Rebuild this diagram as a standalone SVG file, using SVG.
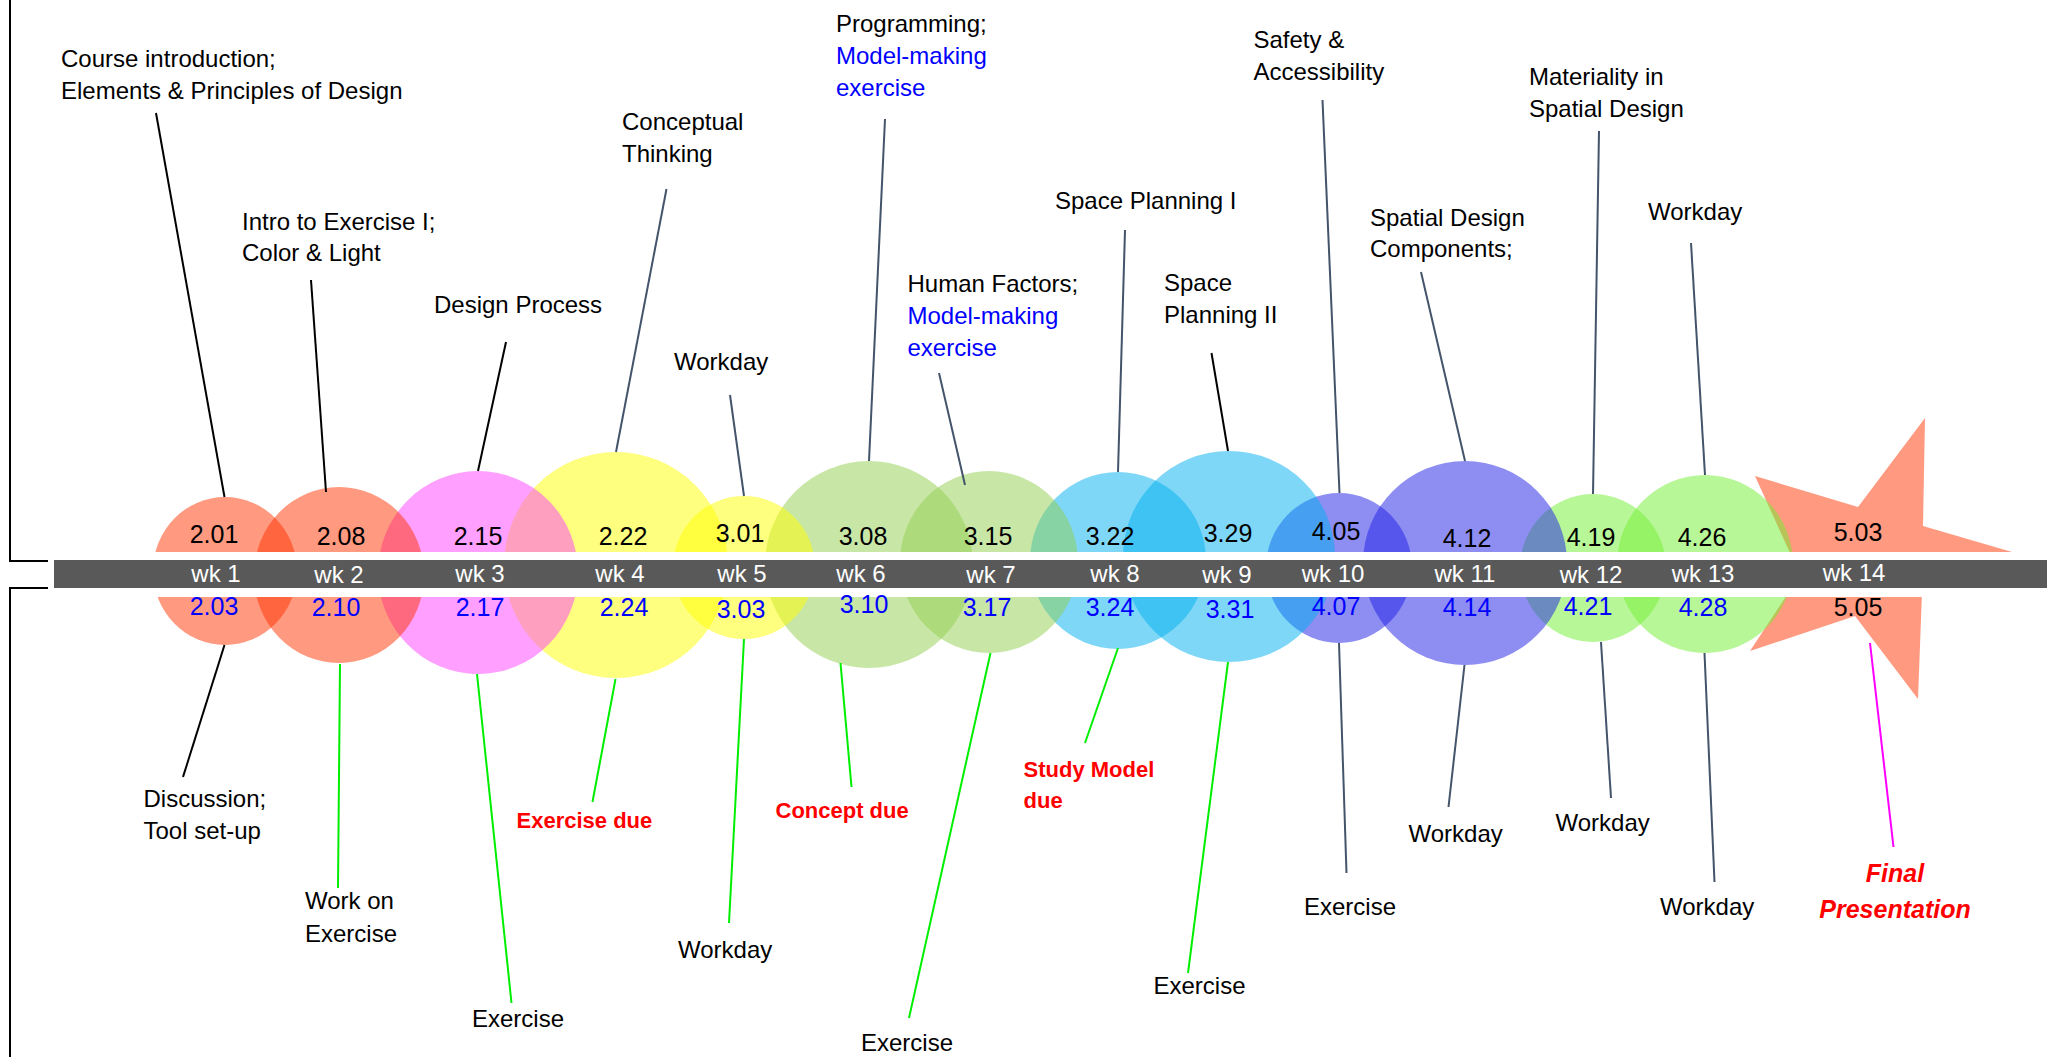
<svg xmlns="http://www.w3.org/2000/svg" width="2047" height="1057" viewBox="0 0 2047 1057">
<style>
text{font-family:"Liberation Sans",Arial,sans-serif}
.lbl{font-size:24px;fill:#000}
.blue{fill:#0000FF}
.due{font-size:22px;font-weight:bold;fill:#FF0000}
.fin{font-size:25px;font-weight:bold;font-style:italic;fill:#FF0000;text-anchor:middle}
.num{font-size:25px;text-anchor:middle}
.t{fill:#000}
.b{fill:#0000FF}
.wk{font-size:24px;fill:#FFFFFF;text-anchor:middle}
.or{fill:#FF3300;fill-opacity:.5}
.pk{fill:#FF40FF;fill-opacity:.5}
.ye{fill:#FFFF00;fill-opacity:.5}
.gr{fill:#92D050;fill-opacity:.5}
.bl{fill:#00B0F0;fill-opacity:.5}
.pu{fill:#1E1EE6;fill-opacity:.5}
.lg{fill:#72F032;fill-opacity:.5}
line{stroke-width:2;fill:none}
.k{stroke:#000}
.s{stroke:#44546A}
.g{stroke:#00EE00}
.m{stroke:#FF00FF}
</style>
<g id="bubbles">
<polygon id="star14" class="or" points="1925,418 1923,526 2012,552 1922,592 1918,699 1855,616 1750,651 1800,575 1755,476 1858,507"/>
<ellipse id="c13" class="lg" cx="1705" cy="564" rx="88" ry="89"/>
<ellipse id="c12" class="lg" cx="1593" cy="568" rx="73" ry="74"/>
<ellipse id="c11" class="pu" cx="1465" cy="563" rx="102" ry="102"/>
<ellipse id="c10" class="pu" cx="1339" cy="568" rx="73" ry="75"/>
<ellipse id="c9" class="bl" cx="1229" cy="556.5" rx="106" ry="105.5"/>
<ellipse id="c8" class="bl" cx="1118" cy="560.5" rx="88" ry="88.5"/>
<ellipse id="c7" class="gr" cx="989" cy="562" rx="89" ry="91"/>
<ellipse id="c6" class="gr" cx="869" cy="564.5" rx="104" ry="103.5"/>
<ellipse id="c5" class="ye" cx="744" cy="567.5" rx="71" ry="71.5"/>
<ellipse id="c4" class="ye" cx="616" cy="565" rx="112" ry="113"/>
<ellipse id="c3" class="pk" cx="478" cy="572.5" rx="100" ry="101.5"/>
<ellipse id="c2" class="or" cx="339" cy="575" rx="85" ry="88"/>
<ellipse id="c1" class="or" cx="225" cy="571" rx="72" ry="74"/>
</g>
<g id="timeline">
<rect x="50" y="552" width="1997" height="45" fill="#FFFFFF"/>
<rect x="54" y="560" width="1993" height="28" fill="#595959"/>
<polyline points="10,0 10,561 48,561" fill="none" stroke="#000" stroke-width="2"/>
<polyline points="10,1057 10,588 48,588" fill="none" stroke="#000" stroke-width="2"/>
</g>
<g id="weeks">
<text class="wk" x="216" y="582">wk 1</text>
<text class="wk" x="339" y="583">wk 2</text>
<text class="wk" x="480" y="582">wk 3</text>
<text class="wk" x="620" y="582">wk 4</text>
<text class="wk" x="742" y="582">wk 5</text>
<text class="wk" x="861" y="582">wk 6</text>
<text class="wk" x="991" y="583">wk 7</text>
<text class="wk" x="1115" y="582">wk 8</text>
<text class="wk" x="1227" y="583">wk 9</text>
<text class="wk" x="1333" y="582">wk 10</text>
<text class="wk" x="1465" y="582">wk 11</text>
<text class="wk" x="1591" y="583">wk 12</text>
<text class="wk" x="1703" y="582">wk 13</text>
<text class="wk" x="1854" y="581">wk 14</text>
</g>
<g id="dates">
<text class="num t" x="214" y="543">2.01</text>
<text class="num t" x="341" y="545">2.08</text>
<text class="num t" x="478" y="545">2.15</text>
<text class="num t" x="623" y="545">2.22</text>
<text class="num t" x="740" y="542">3.01</text>
<text class="num t" x="863" y="545">3.08</text>
<text class="num t" x="988" y="545">3.15</text>
<text class="num t" x="1110" y="545">3.22</text>
<text class="num t" x="1228" y="542">3.29</text>
<text class="num t" x="1336" y="540">4.05</text>
<text class="num t" x="1467" y="547">4.12</text>
<text class="num t" x="1591" y="546">4.19</text>
<text class="num t" x="1702" y="546">4.26</text>
<text class="num t" x="1858" y="541">5.03</text>
<text class="num b" x="214" y="615">2.03</text>
<text class="num b" x="336" y="616">2.10</text>
<text class="num b" x="480" y="616">2.17</text>
<text class="num b" x="624" y="616">2.24</text>
<text class="num b" x="741" y="618">3.03</text>
<text class="num b" x="864" y="613">3.10</text>
<text class="num b" x="987" y="616">3.17</text>
<text class="num b" x="1110" y="616">3.24</text>
<text class="num b" x="1230" y="618">3.31</text>
<text class="num b" x="1336" y="615">4.07</text>
<text class="num b" x="1467" y="616">4.14</text>
<text class="num b" x="1588" y="615">4.21</text>
<text class="num b" x="1703" y="616">4.28</text>
<text class="num t" x="1858" y="616">5.05</text>
</g>
<g id="connectors">
<line class="k" x1="156" y1="113" x2="224.5" y2="497"/>
<line class="k" x1="311" y1="280" x2="326" y2="492"/>
<line class="k" x1="506" y1="342" x2="478" y2="471"/>
<line class="s" x1="666.5" y1="189" x2="616" y2="452"/>
<line class="s" x1="730" y1="395" x2="744" y2="496"/>
<line class="s" x1="885" y1="119" x2="869" y2="461"/>
<line class="s" x1="939" y1="373" x2="965" y2="485"/>
<line class="s" x1="1125" y1="230" x2="1118" y2="472"/>
<line class="k" x1="1211.5" y1="353" x2="1228" y2="451"/>
<line class="s" x1="1322.5" y1="100" x2="1339.5" y2="493"/>
<line class="s" x1="1421" y1="272" x2="1465" y2="461"/>
<line class="s" x1="1599" y1="131" x2="1593" y2="494"/>
<line class="s" x1="1691" y1="243" x2="1705" y2="475"/>
<line class="k" x1="224.5" y1="645" x2="183" y2="777"/>
<line class="g" x1="340" y1="664" x2="338" y2="888"/>
<line class="g" x1="477" y1="674" x2="511.5" y2="1003"/>
<line class="g" x1="615.5" y1="679" x2="592.5" y2="802"/>
<line class="g" x1="744" y1="639" x2="729" y2="923"/>
<line class="g" x1="840.5" y1="663" x2="851.5" y2="787"/>
<line class="g" x1="990.5" y1="653" x2="909" y2="1018"/>
<line class="g" x1="1118" y1="648" x2="1085" y2="743"/>
<line class="g" x1="1228" y1="662" x2="1188" y2="973"/>
<line class="s" x1="1339" y1="643" x2="1346.5" y2="873"/>
<line class="s" x1="1464.5" y1="665" x2="1448.5" y2="807"/>
<line class="s" x1="1601" y1="642" x2="1611" y2="798"/>
<line class="s" x1="1704.5" y1="653" x2="1714.5" y2="882"/>
<line class="m" x1="1870" y1="643" x2="1893.5" y2="847"/>
</g>
<g id="labels-top">
<text class="lbl" x="61" y="67">Course introduction;</text>
<text class="lbl" x="61" y="99">Elements &amp; Principles of Design</text>
<text class="lbl" x="242" y="230">Intro to Exercise I;</text>
<text class="lbl" x="242" y="261">Color &amp; Light</text>
<text class="lbl" x="434" y="313">Design Process</text>
<text class="lbl" x="622" y="130">Conceptual</text>
<text class="lbl" x="622" y="162">Thinking</text>
<text class="lbl" x="674" y="370">Workday</text>
<text class="lbl" x="836" y="32">Programming;</text>
<text class="lbl blue" x="836" y="64">Model-making</text>
<text class="lbl blue" x="836" y="96">exercise</text>
<text class="lbl" x="907.5" y="292">Human Factors;</text>
<text class="lbl blue" x="907.5" y="324">Model-making</text>
<text class="lbl blue" x="907.5" y="356">exercise</text>
<text class="lbl" x="1055" y="209">Space Planning I</text>
<text class="lbl" x="1164" y="291">Space</text>
<text class="lbl" x="1164" y="323">Planning II</text>
<text class="lbl" x="1253.5" y="48">Safety &amp;</text>
<text class="lbl" x="1253.5" y="80">Accessibility</text>
<text class="lbl" x="1370" y="226">Spatial Design</text>
<text class="lbl" x="1370" y="257">Components;</text>
<text class="lbl" x="1529" y="85">Materiality in</text>
<text class="lbl" x="1529" y="117">Spatial Design</text>
<text class="lbl" x="1648" y="220">Workday</text>
</g>
<g id="labels-bottom">
<text class="lbl" x="143.5" y="807">Discussion;</text>
<text class="lbl" x="143.5" y="839">Tool set-up</text>
<text class="lbl" x="305" y="909">Work on</text>
<text class="lbl" x="305" y="942">Exercise</text>
<text class="lbl" x="472" y="1027">Exercise</text>
<text class="due" x="516.5" y="828">Exercise due</text>
<text class="lbl" x="678" y="958">Workday</text>
<text class="due" x="775.5" y="818">Concept due</text>
<text class="lbl" x="861" y="1051">Exercise</text>
<text class="due" x="1023.5" y="777">Study Model</text>
<text class="due" x="1023.5" y="808">due</text>
<text class="lbl" x="1153.5" y="994">Exercise</text>
<text class="lbl" x="1304" y="915">Exercise</text>
<text class="lbl" x="1408.5" y="842">Workday</text>
<text class="lbl" x="1555.5" y="831">Workday</text>
<text class="lbl" x="1660" y="915">Workday</text>
<text class="fin" x="1895" y="882">Final</text>
<text class="fin" x="1895" y="918">Presentation</text>
</g>
</svg>
